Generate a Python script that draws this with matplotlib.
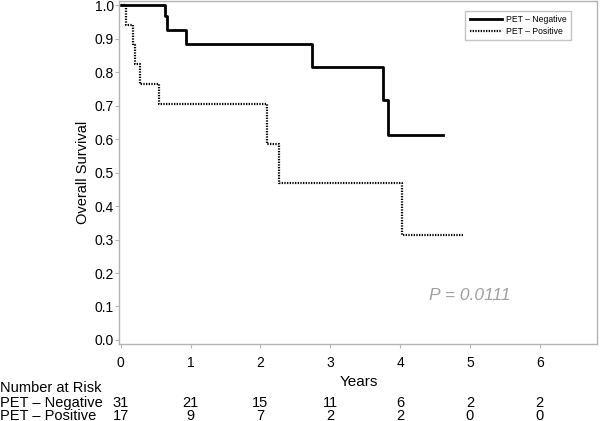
import matplotlib
matplotlib.use("Agg")
import matplotlib.pyplot as plt

plt.rcParams['font.family'] = ['Liberation Sans', 'DejaVu Sans']

# PET-Negative step curve
neg_t = [0.0, 0.64, 0.655, 0.94, 2.74, 3.75, 3.82, 4.62]
neg_s = [1.0, 0.967, 0.926, 0.884, 0.816, 0.716, 0.612, 0.612]
# PET-Positive step curve
pos_t = [0.0, 0.08, 0.18, 0.21, 0.27, 0.55, 2.09, 2.26, 4.03, 4.90]
pos_s = [1.0, 0.941, 0.882, 0.824, 0.765, 0.705, 0.585, 0.470, 0.313, 0.313]

x_ticks = [0, 1, 2, 3, 4, 5, 6]
y_ticks = [0.0, 0.1, 0.2, 0.3, 0.4, 0.5, 0.6, 0.7, 0.8, 0.9, 1.0]
risk_neg = [31, 21, 15, 11, 6, 2, 2]
risk_pos = [17, 9, 7, 2, 2, 0, 0]

fig = plt.figure(figsize=(6, 4.21), dpi=100)
ax = fig.add_axes([0.199, 0.183, 0.796, 0.814])

ax.step(neg_t, neg_s, where='post', color='black', lw=2.0, label='PET \u2013 Negative')
ax.step(pos_t, pos_s, where='post', color='black', lw=1.6, linestyle=(0, (0.6, 0.6)),
        label='PET \u2013 Positive')

ax.set_xlim(-0.02, 6.82)
ax.set_ylim(-0.012, 1.012)
ax.set_xticks(x_ticks)
ax.set_yticks(y_ticks)
ax.set_yticklabels([f"{v:.1f}" for v in y_ticks])
for s in ax.spines.values():
    s.set_color('#b4b4b4')
    s.set_linewidth(1.0)
ax.tick_params(axis='both', colors='#b4b4b4', labelcolor='black', length=3, labelsize=10)
ax.tick_params(axis='x', pad=6)
ax.tick_params(axis='y', pad=1)

ax.set_ylabel('Overall Survival', fontsize=10.5, labelpad=3)
fig.text(359 / 600, 1 - 382 / 421, 'Years', fontsize=11, ha='center', va='center')

leg = ax.legend(loc='upper right', bbox_to_anchor=(0.9455, 0.972), fontsize=6.2, frameon=True,
                fancybox=False, handlelength=3.7, handletextpad=0.5, borderpad=0.5,
                labelspacing=0.35, borderaxespad=0.0)
leg.get_frame().set_edgecolor('#b4b4b4')
leg.get_frame().set_linewidth(1.0)

ax.text(5.0, 0.134, 'P = 0.0111', fontsize=12.5, color='#a0a0a0', style='italic',
        ha='center', va='center')

# Number at risk table
fig.text(0.0, 1 - 388 / 421, 'Number at Risk', fontsize=10.5, ha='left', va='center')
fig.text(0.0, 1 - 403 / 421, 'PET \u2013 Negative', fontsize=10.5, ha='left', va='center')
fig.text(0.0, 1 - 415.5 / 421, 'PET \u2013 Positive', fontsize=10.5, ha='left', va='center')
for xv, n1, n2 in zip(x_ticks, risk_neg, risk_pos):
    xd = ax.transData.transform((xv, 0))[0]
    xf = fig.transFigure.inverted().transform((xd, 0))[0]
    fig.text(xf, 1 - 403 / 421, str(n1), fontsize=10.5, ha='center', va='center')
    fig.text(xf, 1 - 415.5 / 421, str(n2), fontsize=10.5, ha='center', va='center')

fig.savefig('out.png', dpi=100)
